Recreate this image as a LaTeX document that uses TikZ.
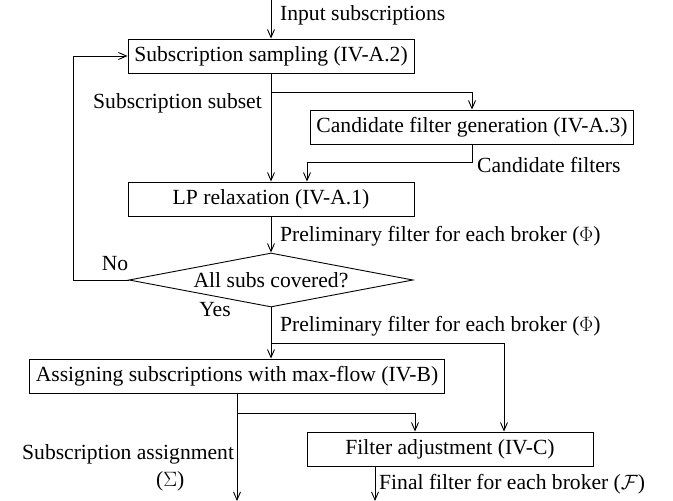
\documentclass[tikz,border=0pt]{standalone}
\usepackage{fontspec}
\setmainfont{Liberation Serif}
\usetikzlibrary{arrows.meta,shapes.geometric}
\begin{document}
\begin{tikzpicture}[x=1pt,y=-1pt, font=\fontsize{21.6}{27}\selectfont,
 box/.style={draw, line width=0.9pt, rectangle, minimum width=286pt, minimum height=34pt, inner sep=6pt},
 dia/.style={draw, line width=0.9pt, diamond, aspect=5.26, minimum width=284pt, minimum height=54pt, inner sep=0pt},
 arr/.style={-{Straight Barb[length=8pt,width=7pt]}, line width=0.9pt},
 lbl/.style={inner sep=0pt}]
\useasboundingbox (0,0) rectangle (673,501);
\coordinate (in) at (271,0);
\node[box] (b1) at (271,56) {Subscription sampling (IV-A.2)};
\node[box] (b2) at (472,127) {Candidate filter generation (IV-A.3)};
\node[box] (lp) at (271,199) {LP relaxation (IV-A.1)};
\node[dia] (dc) at (271,280) {All subs covered?};
\node[box] (b4) at (237,376) {Assigning subscriptions with max-flow (IV-B)};
\node[box] (fa) at (450,449) {Filter adjustment (IV-C)};
\coordinate (br1) at (271,92);
\coordinate (c1) at (307,162);
\coordinate (br2) at (271,343);
\coordinate (br3) at (237,413);
\coordinate (e1) at (237,501);
\coordinate (e2) at (375,501);
\draw[arr] (in) -- (b1.north);
\draw[arr] (b1.south) -- (lp.north);
\draw[arr] (br1) -| (b2.north);
\draw[arr] (b2.south) |- (c1) -- (c1 |- lp.north);
\draw[arr] (lp.south) -- (dc.north);
\draw[arr] (dc.west) -- ++(-55,0) |- (b1.west);
\draw[arr] (dc.south) -- (dc.south |- b4.north);
\draw[arr] (br2) -| (fa.north -| 504,0);
\draw[arr] (b4.south) -- (e1);
\draw[arr] (br3) -| (fa.north -| 415,0);
\draw[arr] (fa.south -| e2) -- (e2);
\node[lbl, anchor=west] (l-in) at (280,15) {Input subscriptions};
\node[lbl, anchor=east] (l-ss) at (262,103) {Subscription subset};
\node[lbl, anchor=west] (l-cf) at (477,165) {Candidate filters};
\node[lbl, anchor=west] (l-pf1) at (280,236) {Preliminary filter for each broker ($\Phi$)};
\node[lbl] (l-no) at (115,264) {No};
\node[lbl] (l-yes) at (215,310) {Yes};
\node[lbl, anchor=west] (l-pf2) at (280,326) {Preliminary filter for each broker ($\Phi$)};
\node[lbl, align=left, anchor=west] (l-sa) at (22,468) {Subscription assignment\\\hspace*{134pt}($\Sigma$)};
\node[lbl, anchor=west] (l-ff) at (379,484) {Final filter for each broker ($\mathcal{F}$)};
\end{tikzpicture}
\end{document}
